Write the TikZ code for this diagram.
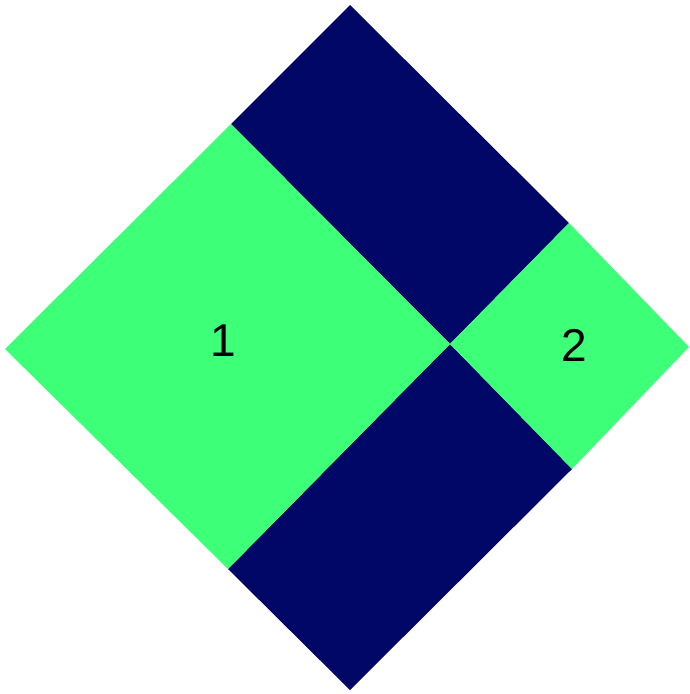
\documentclass[tikz,border=0pt]{standalone}
\usepackage{fontspec}
\setmainfont{Liberation Sans}
\definecolor{pgreen}{RGB}{61,255,120}
\definecolor{pnavy}{RGB}{0,7,102}
\begin{document}
\begin{tikzpicture}[x=1pt,y=-1pt,
  greenpart/.style={fill=pgreen,draw=none},
  navypart/.style={fill=pnavy,draw=none},
  lbl/.style={font=\fontsize{46}{46}\selectfont,text=black,inner sep=0pt}]
\useasboundingbox (0,0) rectangle (689,694);
\coordinate (T) at (350,5);
\coordinate (L) at (5,349);
\coordinate (C) at (450,344);
\coordinate (R) at (689,347);
\coordinate (B) at (350,690);
\coordinate (TL) at (231,124);
\coordinate (TR) at (569,223);
\coordinate (BL) at (228,569);
\coordinate (BR) at (572,469);
\fill[navypart] (TL) -- (T) -- (TR) -- (C) -- cycle;
\fill[navypart] (BL) -- (C) -- (BR) -- (B) -- cycle;
\fill[greenpart] (L) -- (TL) -- (C) -- (BL) -- cycle;
\fill[greenpart] (C) -- (TR) -- (R) -- (BR) -- cycle;
\node[lbl] (n1) at (223,341) {1};
\node[lbl] (n2) at (574,345) {2};
\end{tikzpicture}
\end{document}
